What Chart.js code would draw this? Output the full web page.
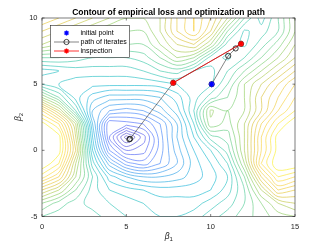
<!DOCTYPE html>
<html>
<head>
<meta charset="utf-8">
<script src="https://cdn.jsdelivr.net/npm/chart.js@4.4.0/dist/chart.umd.min.js"></script>
<style>
  html, body { margin: 0; padding: 0; background: #fff; }
  #wrap { width: 327px; height: 245px; }
</style>
</head>
<body>
<div id="wrap"><canvas id="chartContour" width="327" height="245"></canvas></div>
<script>
// ---- data ----
// grid nodes of the loss surface (beta1 across, beta2 from top row down)
const betaX = [0, 1, 2, 3, 4, 5, 6, 7, 8, 9, 10, 11, 12, 13, 14, 15];
const betaY = [10, 9, 8, 7, 6, 5, 4, 3, 2, 1, 0, -1, -2, -3, -4, -5];
// estimated loss level at each node (counted in contour steps from the minimum)
const lossRows = [
  [26, 25, 24, 23, 22, 21, 21, 22, 25, 27, 25, 22, 18, 15.5, 18, 21],
  [24, 23, 22, 21, 20, 20, 20, 22, 25, 27, 24, 19, 15.8, 16.5, 18, 21],
  [22, 21, 20, 19, 19, 19, 19, 21, 23, 24, 21, 16.5, 15.8, 17.5, 19.5, 22],
  [18, 18, 17.5, 17, 17, 17, 17.5, 19, 21, 20, 16.5, 15.8, 17, 19, 21, 23],
  [14.5, 15, 15.5, 15.5, 15.5, 15.5, 16, 17, 17.5, 16, 15.7, 17, 19, 21, 23, 25],
  [16, 15, 14.5, 14.3, 14.3, 14.3, 14.3, 14.5, 15, 15.5, 15.8, 18, 21, 23, 25, 27],
  [21, 18, 14.5, 12.5, 11.5, 11.5, 11.5, 12, 13.5, 15.5, 17.5, 19, 21, 24, 26, 28],
  [27, 23, 17, 11, 9, 8.5, 9, 10.5, 12.5, 16, 21.2, 20, 21, 24, 27, 29],
  [30.5, 28, 22, 12, 5, 5.5, 6, 8, 11, 15, 20.8, 19.5, 22, 26, 29, 31],
  [31.5, 30.5, 23, 13, 5, 0.5, 3.5, 7.5, 11, 14, 17.5, 18.5, 22, 27, 30.5, 32],
  [31.5, 30.5, 24, 14, 7, 4, 4.5, 7.5, 10.5, 13, 15, 17.5, 22, 27, 30.5, 31.5],
  [31, 29, 22, 15.5, 10.5, 7.5, 6.5, 8, 10, 12.5, 14, 16, 21, 28, 31, 31],
  [28.5, 26, 21, 17, 13.5, 12, 11, 11, 11.5, 12.5, 13.5, 15, 19, 25, 29, 28],
  [24, 22, 19, 16.5, 15, 14.5, 14, 13.5, 13.5, 13.5, 14, 15.5, 18, 22, 26, 25],
  [20, 18.5, 17.5, 16.5, 16, 15.5, 15, 14.5, 14.5, 14.5, 15.5, 16.5, 18, 20, 22, 23],
  [18, 17.5, 17.5, 17.5, 16.5, 16, 15.5, 15, 15, 15.5, 16.5, 17.5, 18.5, 19.5, 20.5, 21]
];
const contourLevels = [1, 2, 3, 4, 5, 6, 7, 8, 9, 10, 11, 12, 13, 14, 15, 16, 17, 18, 19, 20, 21, 22, 23, 24, 25, 26, 27, 28, 29, 30];
const levelMax = 31;

const initX = [10.06];
const initY = [5.0];
const pathX = [10.06, 11.04, 11.48, 11.8, 7.78, 5.22, 5.18];
const pathY = [5.0, 7.14, 7.7, 8.05, 5.1, 0.87, 0.83];
const inspX = [11.8, 7.78];
const inspY = [8.05, 5.1];

const xTicks = [0, 5, 10, 15];
const yTicks = [-5, 0, 5, 10];

const FONT = "'Liberation Sans', Arial, Helvetica, sans-serif";
const AXIS_COLOR = '#262626';

// parula colormap anchors
const parula = [
  [0.2422, 0.1504, 0.6603], [0.2803, 0.2782, 0.9221], [0.2440, 0.4358, 0.9988],
  [0.1540, 0.5902, 0.9218], [0.0297, 0.7082, 0.8163], [0.1938, 0.7758, 0.6251],
  [0.5044, 0.7993, 0.3480], [0.8634, 0.7406, 0.1596], [0.9892, 0.8136, 0.1885],
  [0.9769, 0.9839, 0.0805]
];
function parulaColor(t) {
  t = Math.max(0, Math.min(1, t));
  const p = t * (parula.length - 1);
  const i = Math.min(parula.length - 2, Math.floor(p));
  const f = p - i;
  const c = [0, 1, 2].map(k => Math.round(255 * (parula[i][k] + f * (parula[i + 1][k] - parula[i][k]))));
  return `rgb(${c[0]},${c[1]},${c[2]})`;
}

// --- marching squares over the node grid, chained into polylines ---
function traceLevel(c) {
  const pts = {};
  const segs = [];
  const hp = (i, j) => {
    const k = 'h' + i + '_' + j;
    if (!pts[k]) {
      const a = lossRows[j][i], b = lossRows[j][i + 1];
      const f = (c - a) / (b - a);
      pts[k] = { x: betaX[i] + f * (betaX[i + 1] - betaX[i]), y: betaY[j] };
    }
    return k;
  };
  const vp = (i, j) => {
    const k = 'v' + i + '_' + j;
    if (!pts[k]) {
      const a = lossRows[j][i], b = lossRows[j + 1][i];
      const f = (c - a) / (b - a);
      pts[k] = { x: betaX[i], y: betaY[j] + f * (betaY[j + 1] - betaY[j]) };
    }
    return k;
  };
  for (let j = 0; j < betaY.length - 1; j++) {
    for (let i = 0; i < betaX.length - 1; i++) {
      const tl = lossRows[j][i], tr = lossRows[j][i + 1];
      const bl = lossRows[j + 1][i], br = lossRows[j + 1][i + 1];
      const s = [tl >= c, tr >= c, br >= c, bl >= c];
      const e = [];
      if (s[0] !== s[1]) e.push(hp(i, j));
      if (s[1] !== s[2]) e.push(vp(i + 1, j));
      if (s[2] !== s[3]) e.push(hp(i, j + 1));
      if (s[3] !== s[0]) e.push(vp(i, j));
      if (e.length === 2) segs.push(e);
      else if (e.length === 4) {
        const mid = (tl + tr + bl + br) / 4 >= c;
        if (mid === s[0]) { segs.push([e[0], e[1]]); segs.push([e[2], e[3]]); }
        else { segs.push([e[0], e[3]]); segs.push([e[1], e[2]]); }
      }
    }
  }
  const byKey = {};
  segs.forEach((s, n) => s.forEach(k => { (byKey[k] = byKey[k] || []).push(n); }));
  const used = segs.map(() => false);
  const lines = [];
  segs.forEach((s, n) => {
    if (used[n]) return;
    used[n] = true;
    const chain = [s[0], s[1]];
    let grow = true;
    while (grow) {
      grow = false;
      const last = chain[chain.length - 1];
      for (const m of byKey[last]) {
        if (!used[m]) { used[m] = true; chain.push(segs[m][0] === last ? segs[m][1] : segs[m][0]); grow = true; break; }
      }
    }
    grow = true;
    while (grow) {
      grow = false;
      const first = chain[0];
      for (const m of byKey[first]) {
        if (!used[m]) { used[m] = true; chain.unshift(segs[m][0] === first ? segs[m][1] : segs[m][0]); grow = true; break; }
      }
    }
    lines.push(chain.map(k => pts[k]));
  });
  return lines;
}

const datasets = [];

datasets.push({
  label: 'initial point',
  data: initX.map((x, i) => ({ x, y: initY[i] })),
  showLine: false, pointStyle: 'star', pointRadius: 3,
  borderColor: '#0000ff', backgroundColor: '#0000ff', pointBorderWidth: 1.3, order: 1
});
datasets.push({
  label: 'inspection',
  data: inspX.map((x, i) => ({ x, y: inspY[i] })),
  showLine: true, borderColor: '#ff0000', borderWidth: 0.8,
  pointStyle: 'star', pointRadius: 3, pointBorderWidth: 1.3,
  pointBorderColor: '#ff0000', pointBackgroundColor: '#ff0000', order: 2
});
datasets.push({
  label: 'path of iterates',
  data: pathX.map((x, i) => ({ x, y: pathY[i] })),
  showLine: true, borderColor: '#333333', borderWidth: 0.6,
  pointStyle: 'circle', pointRadius: 2.6, pointBorderWidth: 0.8,
  pointBorderColor: '#111111', pointBackgroundColor: 'rgba(0,0,0,0)', order: 3
});

contourLevels.forEach(c => {
  const col = parulaColor(c / levelMax);
  traceLevel(c).forEach(line => {
    datasets.push({
      label: 'contour ' + c,
      data: line,
      showLine: true, borderColor: col, borderWidth: 0.6,
      pointRadius: 0, tension: 0.35, order: 10
    });
  });
});

// frame, ticks, tick labels, title, axis labels and legend in MATLAB style
const decorPlugin = {
  id: 'decor',
  afterDraw(chart) {
    const ctx = chart.ctx;
    const xs = chart.scales.x, ys = chart.scales.y;
    const L = xs.getPixelForValue(0), R = xs.getPixelForValue(15);
    const T = ys.getPixelForValue(10), B = ys.getPixelForValue(-5);
    ctx.save();
    ctx.strokeStyle = AXIS_COLOR;
    ctx.lineWidth = 0.6;
    ctx.strokeRect(L, T, R - L, B - T);
    ctx.beginPath();
    xTicks.forEach(v => {
      const px = xs.getPixelForValue(v);
      ctx.moveTo(px, B); ctx.lineTo(px, B - 2.5);
      ctx.moveTo(px, T); ctx.lineTo(px, T + 2.5);
    });
    yTicks.forEach(v => {
      const py = ys.getPixelForValue(v);
      ctx.moveTo(L, py); ctx.lineTo(L + 2.5, py);
      ctx.moveTo(R, py); ctx.lineTo(R - 2.5, py);
    });
    ctx.stroke();

    // tick labels
    ctx.fillStyle = AXIS_COLOR;
    ctx.font = '7.5px ' + FONT;
    ctx.textAlign = 'center';
    ctx.textBaseline = 'middle';
    xTicks.forEach(v => ctx.fillText(String(v), xs.getPixelForValue(v), B + 10));
    ctx.textAlign = 'right';
    yTicks.forEach(v => ctx.fillText(String(v), L - 4.5, ys.getPixelForValue(v)));

    // title
    ctx.fillStyle = '#000';
    ctx.font = 'bold 8.5px ' + FONT;
    ctx.textAlign = 'center';
    ctx.textBaseline = 'alphabetic';
    ctx.fillText('Contour of empirical loss and optimization path', (L + R) / 2, 15);

    // axis titles
    ctx.fillStyle = AXIS_COLOR;
    const cx = (L + R) / 2;
    ctx.font = 'italic 8.5px ' + FONT;
    ctx.textAlign = 'right';
    ctx.fillText('\u03b2', cx + 1, 239);
    ctx.font = '6px ' + FONT;
    ctx.textAlign = 'left';
    ctx.fillText('1', cx + 1, 241);

    ctx.save();
    ctx.translate(21, (T + B) / 2);
    ctx.rotate(-Math.PI / 2);
    ctx.font = 'italic 8.5px ' + FONT;
    ctx.textAlign = 'right';
    ctx.fillText('\u03b2', 1, 0);
    ctx.font = '6px ' + FONT;
    ctx.textAlign = 'left';
    ctx.fillText('2', 1, 2);
    ctx.restore();

    // legend
    ctx.fillStyle = '#fff';
    ctx.fillRect(50.5, 25.5, 79, 32);
    ctx.strokeStyle = AXIS_COLOR;
    ctx.lineWidth = 0.6;
    ctx.strokeRect(50.5, 25.5, 79, 32);
    const star = (x, y, r, col) => {
      ctx.strokeStyle = col; ctx.lineWidth = 1.2;
      ctx.beginPath();
      for (let a = 0; a < 4; a++) {
        const ang = a * Math.PI / 4;
        ctx.moveTo(x - r * Math.cos(ang), y - r * Math.sin(ang));
        ctx.lineTo(x + r * Math.cos(ang), y + r * Math.sin(ang));
      }
      ctx.stroke();
    };
    star(66.5, 33, 2.6, '#0000ff');
    ctx.strokeStyle = '#333'; ctx.lineWidth = 0.6;
    ctx.beginPath(); ctx.moveTo(54, 42); ctx.lineTo(79, 42); ctx.stroke();
    ctx.strokeStyle = '#111'; ctx.lineWidth = 0.8;
    ctx.beginPath(); ctx.arc(66.5, 42, 2.6, 0, Math.PI * 2); ctx.stroke();
    ctx.strokeStyle = '#ff0000'; ctx.lineWidth = 0.8;
    ctx.beginPath(); ctx.moveTo(54, 51); ctx.lineTo(79, 51); ctx.stroke();
    star(66.5, 51, 2.6, '#ff0000');

    ctx.fillStyle = '#000';
    ctx.font = '7px ' + FONT;
    ctx.textAlign = 'left';
    ctx.textBaseline = 'middle';
    ctx.fillText('initial point', 80.5, 33.5);
    ctx.fillText('path of iterates', 80.5, 42.5);
    ctx.fillText('inspection', 80.5, 51.5);
    ctx.restore();
  }
};

new Chart(document.getElementById('chartContour').getContext('2d'), {
  type: 'scatter',
  data: { datasets },
  options: {
    responsive: false,
    animation: false,
    events: [],
    layout: { padding: { left: 42, right: 32, top: 18, bottom: 28.5 } },
    plugins: { legend: { display: false }, tooltip: { enabled: false }, title: { display: false } },
    scales: {
      x: {
        type: 'linear', min: 0, max: 15,
        afterFit: s => { s.height = 0; },
        grid: { display: false }, border: { display: false },
        ticks: { display: false, stepSize: 5 }
      },
      y: {
        type: 'linear', min: -5, max: 10,
        afterFit: s => { s.width = 0; },
        grid: { display: false }, border: { display: false },
        ticks: { display: false, stepSize: 5 }
      }
    }
  },
  plugins: [decorPlugin]
});
</script>
</body>
</html>
